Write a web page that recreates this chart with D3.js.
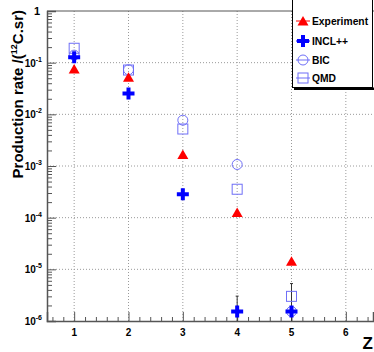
<!DOCTYPE html>
<html><head><meta charset="utf-8">
<script src="https://cdn.jsdelivr.net/npm/d3@7"></script>
<style>body{margin:0;background:#fff}svg{display:block;font-family:"Liberation Sans",Arial,sans-serif}</style>
</head><body><svg id="c" width="374" height="352"></svg>
<script>
const zValues = [1, 2, 3, 4, 5];
const experiment = [0.075, 0.052, 0.00167, 1.26e-4, 1.43e-5];
const incl = [0.127, 0.0254, 2.84e-4, 1.53e-6, 1.53e-6];
const inclErr = [0, 0, 0, 1.5e-6, 0];
const bic = [0.14, 0.073, 0.0077, 1.07e-3, 1.53e-6];
const qmd = [0.19, 0.072, 0.0052, 3.55e-4, 3.0e-6];
const qmdErr = [0, 0, 0, 0, 2.3e-6];
const xTicks = [1, 2, 3, 4, 5, 6];
const yExps = [0, -1, -2, -3, -4, -5, -6];
const legendLabels = ["Experiment", "INCL++", "BIC", "QMD"];

const svg = d3.select("#c");
const L = 47, R = 373, T = 11, B = 321;
const x = d3.scaleLinear().domain([0.5, 6.5]).range([L, R]);
const y = d3.scaleLog().domain([1e-6, 1]).range([B, T]);
const RED = "#ff0000", BLUE = "#0000ff", LB = "#6f6ff7";

// grid
const g = svg.append("g");
xTicks.forEach(t => g.append("line").attr("x1", x(t)).attr("x2", x(t)).attr("y1", T).attr("y2", B)
  .attr("stroke", "#9a9a9a").attr("stroke-dasharray", "1,2").attr("stroke-width", 1));
yExps.slice(1, -1).forEach(e => g.append("line").attr("x1", L).attr("x2", R).attr("y1", y(Math.pow(10, e))).attr("y2", y(Math.pow(10, e)))
  .attr("stroke", "#9a9a9a").attr("stroke-dasharray", "1,2").attr("stroke-width", 1));

// axes
const axC = "#555";
const xMinor = d3.range(0.6, 6.5, 0.2).filter(v => Math.abs(v - Math.round(v)) > 0.05);
const xAxis = d3.axisBottom(x).tickValues(xTicks).tickSize(-9).tickFormat("");
const gx = svg.append("g").attr("transform", `translate(0,${B})`).call(xAxis);
gx.selectAll("line").attr("stroke", axC);
gx.select(".domain").attr("stroke", axC).attr("stroke-width", 1.5);
const gxm = svg.append("g").attr("transform", `translate(0,${B})`).call(d3.axisBottom(x).tickValues(xMinor).tickSize(-4).tickFormat(""));
gxm.selectAll("line").attr("stroke", axC);
gxm.select(".domain").remove();
xTicks.forEach(t => svg.append("text").attr("x", x(t)).attr("y", 336).attr("text-anchor", "middle")
  .attr("font-size", 10).attr("font-weight", "bold").attr("fill", "#000").text(t));

const yMajor = yExps.map(e => Math.pow(10, e));
const yMinor = [];
for (let e = -6; e < 0; e++) for (let k = 2; k <= 9; k++) yMinor.push(k * Math.pow(10, e));
const gy = svg.append("g").attr("transform", `translate(${L},0)`).call(d3.axisLeft(y).tickValues(yMajor).tickSize(-9).tickFormat(""));
gy.selectAll("line").attr("stroke", axC);
gy.select(".domain").attr("stroke", axC).attr("stroke-width", 1.5);
const gym = svg.append("g").attr("transform", `translate(${L},0)`).call(d3.axisLeft(y).tickValues(yMinor).tickSize(-5).tickFormat(""));
gym.selectAll("line").attr("stroke", axC);
gym.select(".domain").remove();
svg.append("line").attr("x1", L).attr("x2", R + 5).attr("y1", T).attr("y2", T).attr("stroke", axC).attr("stroke-width", 1);

yExps.forEach(e => {
  const t = svg.append("text").attr("y", y(Math.pow(10, e)) + 4).attr("font-weight", "bold").attr("fill", "#000").attr("text-anchor", "end");
  if (e === 0) { t.attr("x", 40).attr("font-size", 11).text("1"); }
  else {
    t.attr("x", 42).attr("font-size", 10);
    t.append("tspan").text("10");
    t.append("tspan").attr("font-size", 7).attr("dy", -5).text(String(e));
  }
});

// titles
svg.append("text").attr("transform", "translate(22.5,10) rotate(-90)").attr("text-anchor", "end")
  .attr("font-size", 15).attr("font-weight", "bold").attr("fill", "#000")
  .call(t => { t.append("tspan").text("Production rate /("); t.append("tspan").attr("font-size", 9).attr("dy", -6).text("12");
    t.append("tspan").attr("dy", 6).text("C.sr)"); });
svg.append("text").attr("x", 373).attr("y", 349).attr("text-anchor", "end").attr("font-size", 17).attr("font-weight", "bold").attr("fill", "#000").text("Z");

// markers
const plot = svg.append("g");
function tri(g, cx, cy, c) { g.append("path").attr("d", `M${cx - 5.5},${cy + 4.5}L${cx + 5.5},${cy + 4.5}L${cx},${cy - 5}Z`).attr("fill", c); }
function cross(g, cx, cy, c) { g.append("path").attr("d", `M${cx - 6},${cy - 2}h4v-4h4v4h4v4h-4v4h-4v-4h-4Z`).attr("fill", c); }
function circ(g, cx, cy, c) { g.append("circle").attr("cx", cx).attr("cy", cy).attr("r", 5).attr("fill", "none").attr("stroke", c).attr("stroke-width", 1); }
function sq(g, cx, cy, c) { g.append("rect").attr("x", cx - 5).attr("y", cy - 5).attr("width", 10).attr("height", 10).attr("fill", "none").attr("stroke", c).attr("stroke-width", 1); }
function errbar(g, z, v, e) {
  if (!e) return;
  const top = y(v + e), bot = v - e > 1e-6 ? y(v - e) : B;
  g.append("line").attr("x1", x(z)).attr("x2", x(z)).attr("y1", top).attr("y2", bot).attr("stroke", "#333").attr("stroke-width", 1);
  g.append("line").attr("x1", x(z) - 1.5).attr("x2", x(z) + 1.5).attr("y1", top).attr("y2", top).attr("stroke", "#333");
}
zValues.forEach((z, i) => { errbar(plot, z, incl[i], inclErr[i]); errbar(plot, z, qmd[i], qmdErr[i]); });
zValues.forEach((z, i) => circ(plot, x(z), y(bic[i]), LB));
zValues.forEach((z, i) => sq(plot, x(z), y(qmd[i]), LB));
zValues.forEach((z, i) => tri(plot, x(z), y(experiment[i]), RED));
zValues.forEach((z, i) => cross(plot, x(z), y(incl[i]), BLUE));

// legend
const lg = svg.append("g");
lg.append("rect").attr("x", 292.5).attr("y", -1).attr("width", 80).attr("height", 88.5).attr("fill", "#fff").attr("stroke", "#000").attr("stroke-width", 1);
lg.append("rect").attr("x", 294).attr("y", 87.5).attr("width", 80).attr("height", 2.5).attr("fill", "#000");
const ly = [21, 41, 60, 78];
const lc = [RED, BLUE, LB, LB];
ly.forEach((yy, i) => {
  lg.append("line").attr("x1", 296).attr("x2", 310).attr("y1", yy).attr("y2", yy).attr("stroke", lc[i]).attr("stroke-width", 1);
  [tri, cross, circ, sq][i](lg, 303, yy, lc[i]);
  lg.append("text").attr("x", 312).attr("y", yy + 4).attr("font-size", 10.3).attr("font-weight", "bold").attr("fill", "#000").text(legendLabels[i]);
});
</script></body></html>
